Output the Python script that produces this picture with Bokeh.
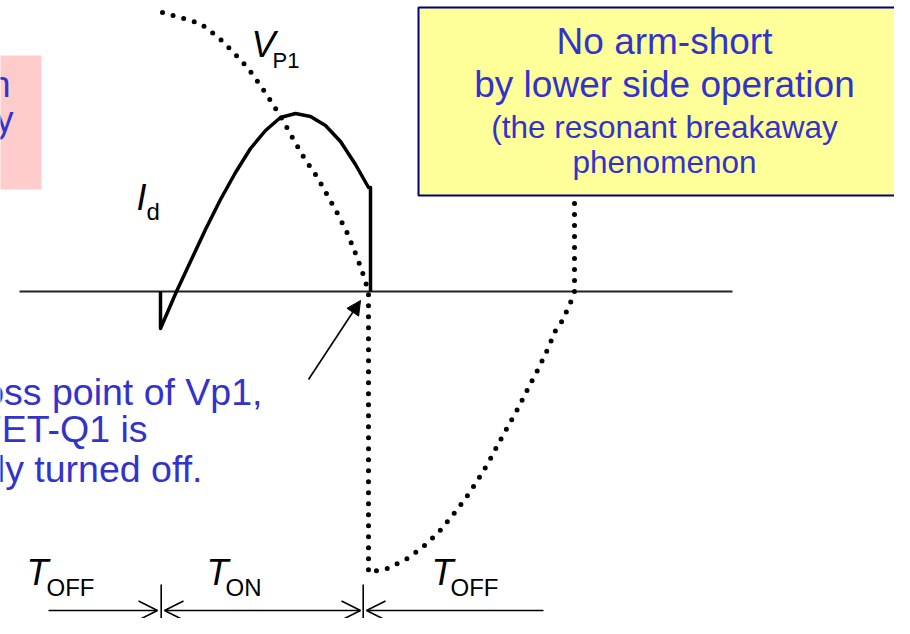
from bokeh.plotting import figure
from bokeh.models import Range1d, Arrow, OpenHead, NormalHead
from bokeh.core.properties import value
from bokeh.embed import file_html
from bokeh.resources import INLINE

# ---- waveform data (x: time position, y: amplitude above the baseline) ----
id_x = [160, 160, 176, 190, 205, 220, 235, 250, 265, 280, 295, 310, 325, 340, 355, 368, 370, 370]
id_y = [0, -37, 0, 30, 62, 92, 119, 143, 161, 174, 178, 175, 166, 150, 127, 104, 104, 0]

vp1_x = [162, 183, 200, 218, 233, 247, 260, 272, 283, 293, 304, 317, 327, 337, 347, 357, 362, 368,
         368, 387, 407, 423, 438, 452, 465, 477, 488, 498, 508, 518, 528, 538, 547, 555, 562, 570,
         574, 574]
vp1_y = [279, 273, 268, 254, 239, 224, 206, 188, 170, 152, 133, 114, 96, 78, 58, 33, 19, 0,
         -281, -277, -267, -255, -241, -224, -207, -189, -171, -152, -134, -116, -96, -77, -58,
         -39, -29, -11, -1, 96]

baseline_x = [19, 732]
baseline_y = [0, 0]

# period boundaries and dimension arrows
period_marks = [160.7, 362.7]
mark_top, mark_bottom = -293, -345
dim_y = -319
dim_start = [48, 164, 543]
dim_end = [157, 360, 366]
dim_both = [False, True, False]

# pointer arrow to the cross point
ptr_start = (308, -88)
ptr_end = (360, -9)

# callout boxes
yellow_box = dict(left=418, right=907, top=284, bottom=96)
pink_box = dict(left=-100, right=41, top=236, bottom=102)

yellow_lines = ["No arm-short", "by lower side operation", "(the resonant breakaway", "phenomenon"]
yellow_sizes = [37, 37, 31.5, 31.5]
yellow_base = [236, 193, 153, 118]
yellow_cx = 664

pink_lines = ["Upper side operation", "at lower frequency"]
pink_right = [10, 13]
pink_base = [194, 159]

cross_lines = ["At the cross point of Vp1,", "MOSFET-Q1 is", "naturally turned off."]
cross_right = [262, 147, 202]
cross_base = [-114, -151, -191]

# symbol labels: (main, subscript, x_main, x_sub, y_main, y_sub, size_sub)
symbols = [
    ("V", "P1", 251, 272, 234, 223, 22),
    ("I", "d", 136, 146, 81, 71, 24),
    ("T", "OFF", 26, 46, -294, -305, 24),
    ("T", "ON", 206, 225, -294, -305, 24),
    ("T", "OFF", 431, 450, -294, -305, 24),
]

BLUE = "#3333cc"
FONT = value("Liberation Sans")


def lift(size):
    # compensation so that the rendered alphabetic baseline sits where measured
    return 0.37 * size


p = figure(width=894, height=618, output_backend="svg", toolbar_location=None,
           x_range=Range1d(0, 894), y_range=Range1d(-327, 291),
           x_axis_location=None, y_axis_location=None, min_border=0)
p.grid.visible = False
p.outline_line_color = None
p.background_fill_color = "white"
p.border_fill_color = "white"

# pink box (partially visible)
p.quad(left=[pink_box["left"]], right=[pink_box["right"]], top=[pink_box["top"]],
       bottom=[pink_box["bottom"]], fill_color="#ffcccc", line_color=None)
p.text(x=pink_right, y=[b + lift(36) for b in pink_base], text=pink_lines, text_font=FONT,
       text_font_size="36px", text_color=BLUE, text_align="right", text_baseline="alphabetic")

# baseline
p.line(baseline_x, baseline_y, line_color="#222222", line_width=2)

# Vp1 dotted
p.line(vp1_x, vp1_y, line_color="black", line_width=5, line_dash="0 11", line_cap="round",
       line_join="round")

# Id solid
p.line(id_x, id_y, line_color="black", line_width=3.5, line_join="round")

# yellow box
p.quad(left=[yellow_box["left"]], right=[yellow_box["right"]], top=[yellow_box["top"]],
       bottom=[yellow_box["bottom"]], fill_color="#ffff99", line_color="#000080", line_width=2)
for t, s, b in zip(yellow_lines, yellow_sizes, yellow_base):
    p.text(x=[yellow_cx], y=[b + lift(s)], text=[t], text_font=FONT, text_font_size=f"{s}px",
           text_color=BLUE, text_align="center", text_baseline="alphabetic")

# cross point text
p.text(x=cross_right, y=[b + lift(37.5) for b in cross_base], text=cross_lines, text_font=FONT,
       text_font_size="37.5px", text_color=BLUE, text_align="right", text_baseline="alphabetic")

# pointer arrow
p.add_layout(Arrow(end=NormalHead(size=14, fill_color="black", line_color="black"),
                   x_start=ptr_start[0], y_start=ptr_start[1], x_end=ptr_end[0], y_end=ptr_end[1],
                   line_width=1.6, line_color="black"))

# period marks
p.segment(x0=period_marks, y0=[mark_top] * len(period_marks), x1=period_marks,
          y1=[mark_bottom] * len(period_marks), line_color="black", line_width=1.6)

# dimension arrows
for xs, xe, both in zip(dim_start, dim_end, dim_both):
    p.add_layout(Arrow(end=OpenHead(size=19, line_width=1.6, line_color="black"),
                       start=OpenHead(size=19, line_width=1.6, line_color="black") if both else None,
                       x_start=xs, y_start=dim_y, x_end=xe, y_end=dim_y,
                       line_width=1.6, line_color="black"))

# symbol labels
for main, sub, xm, xs, ym, ys, ss in symbols:
    p.text(x=[xm], y=[ym + lift(36)], text=[main], text_font=FONT, text_font_size="36px",
           text_font_style="italic", text_color="black", text_baseline="alphabetic")
    p.text(x=[xs], y=[ys + lift(ss)], text=[sub], text_font=FONT, text_font_size=f"{ss}px",
           text_color="black", text_baseline="alphabetic")

open("out.html", "w").write(file_html(p, INLINE))
